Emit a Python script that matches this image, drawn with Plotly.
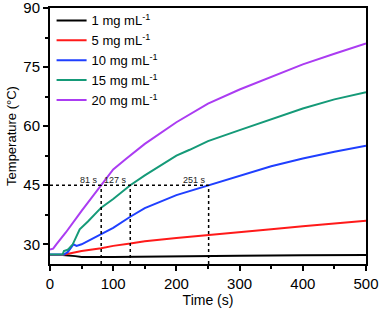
import plotly.graph_objects as go

t_black = [0, 20, 40, 50, 100, 150, 200, 300, 400, 500]
T_black = [27.3, 27.3, 27.0, 26.8, 26.8, 26.9, 27.0, 27.1, 27.2, 27.3]

t_red = [0, 20, 25, 50, 81, 100, 127, 150, 200, 251, 300, 350, 400, 450, 500]
T_red = [27.3, 27.3, 27.5, 28.3, 29.0, 29.6, 30.2, 30.8, 31.6, 32.3, 33.0, 33.8, 34.6, 35.3, 36.0]

t_blue = [0, 22, 28, 33, 37, 42, 50, 81, 100, 127, 150, 200, 251, 300, 350, 400, 450, 500]
T_blue = [27.4, 27.4, 28.0, 29.2, 30.0, 29.6, 30.0, 32.6, 34.2, 37.0, 39.2, 42.5, 45.0, 47.5, 49.8, 51.8, 53.5, 55.0]

t_green = [0, 20, 22, 28, 36, 47, 60, 81, 100, 127, 150, 200, 221, 250, 300, 350, 400, 450, 500]
T_green = [27.4, 27.4, 28.3, 28.6, 30.0, 33.8, 35.8, 39.3, 41.5, 45.0, 47.5, 52.5, 54.0, 56.2, 59.0, 61.8, 64.5, 66.8, 68.6]

t_purple = [0, 5, 10, 25, 50, 81, 100, 121, 150, 200, 221, 250, 300, 350, 400, 450, 500]
T_purple = [28.7, 28.9, 30.0, 33.0, 38.5, 45.0, 49.0, 51.8, 55.5, 61.0, 62.9, 65.7, 69.3, 72.6, 75.7, 78.4, 81.0]

labels = ["1 mg mL<sup>-1</sup>", "5 mg mL<sup>-1</sup>", "10 mg mL<sup>-1</sup>",
          "15 mg mL<sup>-1</sup>", "20 mg mL<sup>-1</sup>"]
colors = ["#000000", "#ff1a1a", "#1f3fff", "#159a78", "#ab3cf2"]

mark_times = [81, 127, 251]
mark_labels = ["81 s", "127 s", "251 s"]
mark_T = 45
y_min = 25

fig = go.Figure()
series = [(t_black, T_black), (t_red, T_red), (t_blue, T_blue), (t_green, T_green), (t_purple, T_purple)]
for (tx, ty), name, c in zip(series, labels, colors):
    fig.add_trace(go.Scatter(x=tx, y=ty, mode="lines", name=name,
                             line=dict(color=c, width=2)))

# dotted guide lines
fig.add_trace(go.Scatter(x=[0, max(mark_times)], y=[mark_T, mark_T], mode="lines",
                         line=dict(color="black", width=1.5, dash="dot"), showlegend=False))
for mt in mark_times:
    fig.add_trace(go.Scatter(x=[mt, mt], y=[y_min, mark_T], mode="lines",
                             line=dict(color="black", width=1.5, dash="dot"), showlegend=False))
for mt, ml in zip(mark_times, mark_labels):
    fig.add_annotation(x=mt, y=mark_T, text=ml, showarrow=False, xanchor="right",
                       yanchor="bottom", xshift=-1, yshift=-2,
                       font=dict(size=9, color="#222222"))

axis_common = dict(showline=True, linecolor="black", linewidth=2, mirror=True,
                   ticks="outside", ticklen=5, tickwidth=1.5, tickcolor="black",
                   showgrid=False, zeroline=False, ticklabeloverflow="allow",
                   tickfont=dict(size=15, color="black"))

fig.update_xaxes(range=[0, 500], tickvals=[0, 100, 200, 300, 400, 500],
                 minor=dict(ticks="outside", ticklen=3, tickwidth=1.5, dtick=50, tick0=0, tickcolor="black"),
                 title=dict(text="Time (s)", font=dict(size=14, color="black"), standoff=4),
                 **axis_common)
fig.update_yaxes(range=[y_min, 90], tickvals=[30, 45, 60, 75, 90],
                 minor=dict(ticks="outside", ticklen=3, tickwidth=1.5, dtick=7.5, tick0=30, tickcolor="black"),
                 title=dict(text="Temperature (°C)", font=dict(size=13, color="black"), standoff=4),
                 **axis_common)

fig.update_layout(
    width=380, height=310,
    margin=dict(l=50, r=14, t=8, b=46, autoexpand=False),
    plot_bgcolor="white", paper_bgcolor="white",
    font=dict(family="Liberation Sans, Arial, sans-serif", color="black"),
    legend=dict(x=0.005, y=1.01, xanchor="left", yanchor="top",
                bgcolor="rgba(0,0,0,0)", font=dict(size=13),
                itemwidth=30),
)

fig.write_html("out.html", config={"displayModeBar": False},
               post_script="document.body.style.margin='0';")
